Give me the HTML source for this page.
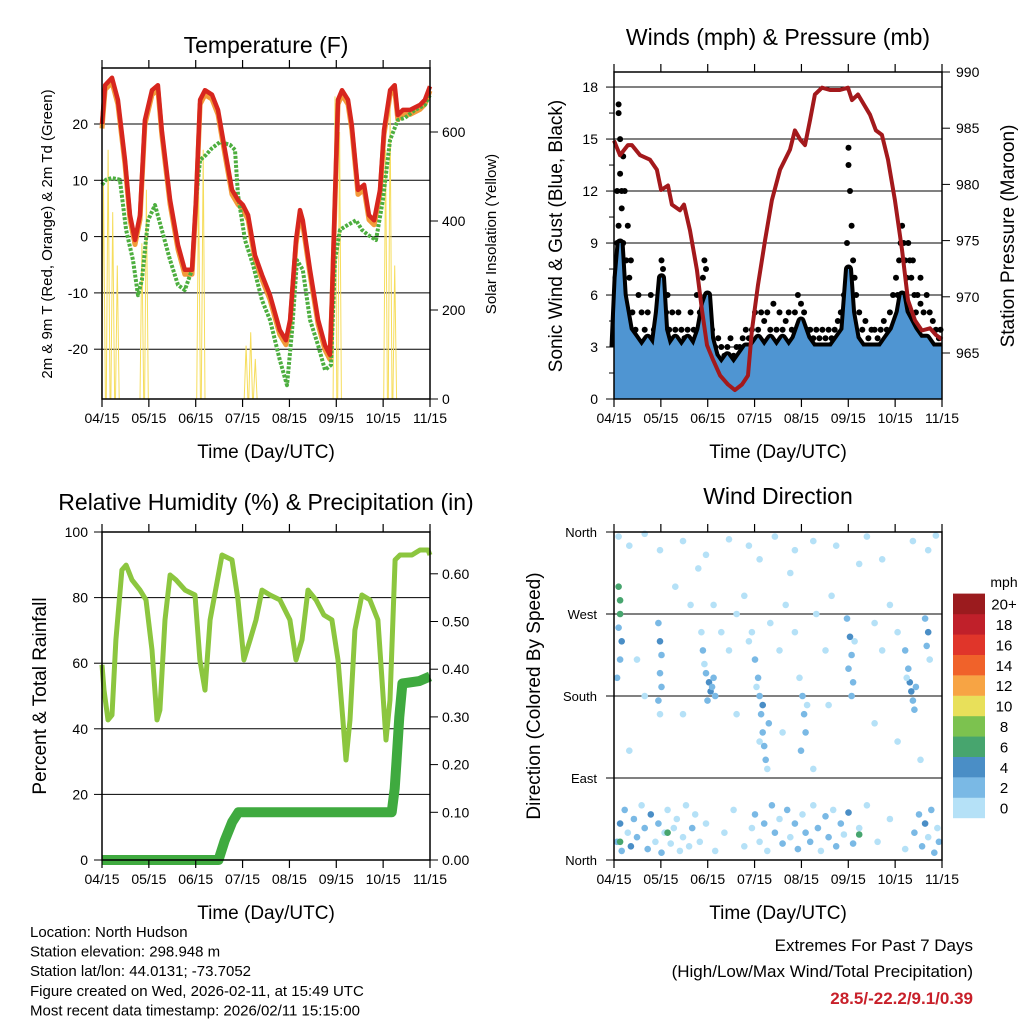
<!DOCTYPE html>
<html><head><meta charset="utf-8"><style>
html,body{margin:0;padding:0;background:#fff;}
svg text{font-family:"Liberation Sans",Arial,sans-serif;fill:#000;}
</style></head><body>
<svg id="s" width="1024" height="1024" viewBox="0 0 1024 1024" xmlns="http://www.w3.org/2000/svg"></svg>
<script>
// ---------------- DATA ----------------
const dateLabels=["04/15","05/15","06/15","07/15","08/15","09/15","10/15","11/15"];
const tempTicks=[20,10,0,-10,-20];
const solarTicks=[0,200,400,600];
const windTicks=[0,3,6,9,12,15,18];
const pressTicks=[965,970,975,980,985,990];
const rhTicks=[0,20,40,60,80,100];
const rainTicks=[0,0.1,0.2,0.3,0.4,0.5,0.6];
const dirTicks=["North","East","South","West","North"];
const cbLabels=["0","2","4","6","8","10","12","14","16","18","20+"];
const cbColors=["#b5e1f7","#7ab9e5","#4a8ec6","#47a56e","#7cc24f","#e8e05a","#f7a444","#f0622a","#e0352a","#c0202a","#9b1b1e"];

const tDays=[0,2,6.5,10.4,15,18.3,21.5,24.8,28,32.6,36.5,39,44.4,49.6,54,58.7,61.3,64,67.2,71.8,75.7,80.2,84.8,88.7,92,95.3,99.8,104.4,109.6,116,120,122.7,126.6,129.2,131,135.7,141,145.5,148.7,150,154,156.6,160.5,163,167,171,174.2,177.5,181.4,184,188,191,193,196.4,201,207.5,210.7,214];
const tempRed=[20,26.9,28.2,24.3,13.6,3.8,-0.6,3.8,20.7,26,26.9,18.9,6.5,-1.5,-5.9,-5.9,6.5,24.3,26,25.2,22.5,15.4,8.3,6.5,5.6,3.8,-3.3,-6.8,-10.4,-16.6,-18.4,-14.8,-0.6,4.7,2.9,-5.9,-14.8,-19.3,-21,-11.3,24.3,26,24.3,19.8,8.3,9.2,3.8,2.9,8.3,18.9,26,26.9,21.6,22.5,22.5,23.4,24.3,26.7];
const tdDays=[0,2.6,6.5,11.7,15.7,20.2,23.5,26,30,34.6,39,44.4,49.6,54,58.7,61.3,64,67.8,71.8,77,83.5,86.8,88.7,93.3,98.5,104.4,109.6,116,120.7,124,127.2,131,135.7,141,145.5,149.4,152,155.3,160.5,165.7,169.6,173.5,178.8,183.3,188,193,197.7,204.2,210.7,214];
const dewGreen=[9.2,10.1,10.4,10.1,1.2,-4.2,-10.4,-7.7,2.9,5.6,1.2,-4.2,-8.6,-9.5,-5.9,6.5,13.6,14.5,15.7,16.8,16.3,15.4,7.4,-0.6,-5,-11.3,-14.8,-21.9,-26.4,-16.6,-4.2,-5.9,-14.8,-19.3,-23.7,-22.8,-4.2,1.2,2.1,2.9,1.2,0.3,-0.6,6.5,17.2,20.7,21.1,22.5,23.4,25.2];
const solarDays=[1,4,7,10,26,29,63,66,94,97,100,152,155,185,188,191];
const solarPeaks=[480,560,420,300,350,470,480,560,120,150,90,680,600,560,650,300];

const pDays=[0,3.9,9.1,11.7,17,23.5,28,30.7,35.2,37.8,43,45.7,49.6,54.1,57.4,60.7,64.6,69.2,74.4,78.9,83.5,87.4,90,93.9,98.5,103,108.3,114.8,118,121.4,124.6,127.9,131.1,135.7,140.9,147.4,152.7,155.3,159.2,163.1,167,170.9,174.8,178.8,183.3,187.9,191.8,196.4,200.9,206.2,210.1,214];
const pressure=[983.9,982.6,983.5,983.5,982.6,982.2,981.3,979.5,979.9,978.2,977.7,978.2,975.9,972.4,968.8,965.7,964.4,963,962.2,961.7,962.2,963,967,971,975,978.6,981.3,983.1,984.8,984,983.5,985.7,988,988.6,988.4,988.4,988.6,987.5,988,987.1,986.2,984.8,984.4,982.2,978.6,974.2,969.7,967.9,967,967.2,966.6,966.2];
const windDays=[0,2,4,6,8,10,14,18,22,26,29,31,33,36,40,44,48,52,56,59,61,63,66,70,74,78,82,86,90,94,98,102,106,110,114,118,122,126,130,134,138,142,146,150,153,155,158,162,166,170,174,178,182,186,188,190,193,196,200,204,208,212,214];
const windSpeed=[3,7,9,6,5,4,3.5,3,3.5,3,5,7,4,3,3.5,3,3.5,3,4,5.5,6,3.5,2.5,2,2.5,2,2.5,3,3,3.5,3,3.5,3,3.5,3,3.5,4.5,3.5,3,3,3,3,3.5,4,7.5,5,3.5,3,3,3,3,3.5,4,5,6,5,4.5,4,3.5,3.5,3,3,3];
const gustDays=[1,2,2,3,3,4,4,5,5,3,6,6,7,8,9,10,11,7,4,12,14,16,18,20,22,24,26,28,30,31,32,33,34,36,38,40,42,44,46,48,50,52,54,56,58,59,60,61,62,64,66,68,70,72,74,76,78,80,82,84,86,88,90,92,94,96,98,100,102,104,106,108,110,112,114,116,118,120,122,124,126,128,130,132,134,136,138,140,142,144,146,148,150,152,153,153,154,155,156,157,158,160,162,164,166,168,170,172,174,176,178,180,182,184,186,187,188,189,190,191,192,193,194,196,198,200,202,204,206,208,210,212,213,5,35,185,195,197,200];
const gustSpeed=[7,9,12,17,16.5,15,13,12,11,10,14,9,12,8,10,7,8,6,8,5,4,6,5,4,5,6,4,5,7,8,7.5,6,5,4,5,4,5,4,3.5,4,5,4,6,5,7,8,7.5,6,5,4,3,3.5,3,2.5,3,3.5,2.5,3,3,3.5,4,3.5,4,5,4,5,4.5,5,4,5.5,4,5,4,4.5,5,4,5,6,5.5,5,4,4,3.5,4,3.5,4,3.5,4,3.5,4,4.5,5,6,9,13.5,14.5,12,10,8,7,6,5,4,4.5,3.5,4,4,3.5,4,4.5,4,5,6,7,8,9,10,9,8,7,9,8,7,6,6,5.5,5,6,5,4.5,4,3.5,4,9,6,6,8,5,7];

const rhDays=[0,1.3,3.9,6.5,9.1,13,15.7,19.6,24.8,28.7,32.6,35.9,37.8,41.1,44.4,48.3,54.2,60.7,63.9,67.2,70.5,78.3,84.8,88.7,92.6,96.6,100.5,104.4,109.6,116.1,122.6,126.6,130.5,134.4,139.6,144.8,150,154,157.2,159.2,161.8,165,169.6,174.8,180,182.7,185.3,187.9,191.2,194.4,202.2,207.5,212.7,214];
const rhValues=[59.5,51.8,42.7,44.2,67.1,88.4,89.9,85.4,82.3,79.3,64,42.7,45.7,73.2,86.9,85.4,82.3,80.8,61,51.8,73.2,93,91.5,79.3,61,67.1,73.2,82.3,80.8,79.3,73.2,61,67.1,82.3,79.3,74.7,73.2,61,42.7,30.5,42.7,70.1,80.8,79.3,73.2,54.9,36.6,48.8,91.5,93,93,94.5,94.5,93];
const rainDays=[0,76,80,85,89,189,191,192,194,196,207,214];
const rainTotal=[0,0,0.04,0.08,0.1,0.1,0.15,0.2,0.3,0.37,0.375,0.385];

const dirDays=[2,4,5,7,9,11,13,15,18,20,22,24,27,29,31,33,35,37,39,41,43,45,47,49,51,53,56,60,66,72,78,85,90,92,95,98,100,103,105,108,110,113,115,118,120,123,125,128,130,133,135,138,140,143,145,148,150,153,156,160,165,172,180,190,196,199,201,203,205,207,209,211,212,4,35,160,
3,10,20,30,45,60,75,88,95,105,118,130,145,165,175,195,205,210,55,115,160,
3,4,4,3,5,4,2,29,30,31,30,31,29,30,58,60,62,63,64,61,65,59,66,57,90,92,94,95,96,97,98,99,100,93,97,101,95,121,123,124,125,122,126,152,154,155,153,156,155,157,190,192,193,194,195,196,191,197,203,205,204,206,
65,70,75,80,85,88,102,108,112,118,132,138,142,170,175,180,185,50,40,15,20,45,80,110,140,170,185,200,10,130];
const dirDeg=[20,40,10,55,30,15,45,25,60,35,12,50,20,40,8,30,55,18,35,45,10,25,60,15,35,50,20,40,10,30,55,15,35,50,20,40,10,60,30,45,18,55,25,40,12,50,30,20,60,35,10,48,25,55,15,40,28,52,18,35,60,20,45,12,30,50,15,40,25,55,8,35,20,20,30,28,
355,345,358,340,350,335,352,345,330,355,340,350,345,355,330,350,340,356,320,315,325,
300,285,270,255,240,220,200,260,240,225,205,190,175,160,230,205,195,185,190,175,200,215,180,250,250,220,200,180,160,140,125,110,100,190,170,150,130,200,180,160,140,120,170,265,245,225,210,195,180,240,230,210,195,185,175,165,200,190,265,250,235,220,
280,250,230,270,290,240,260,230,280,250,270,230,290,260,230,280,250,280,300,220,180,160,160,140,170,150,130,110,120,100];
const dirSpeed=[3,4,2,3,1,4,2,3,1,2,3,4,1,2,3,1,0,1,0,1,0,1,0,1,2,1,0,1,0,0,0,0,1,2,1,2,1,2,3,1,2,3,1,2,3,1,2,3,1,2,1,3,2,1,2,3,1,4,2,1,0,0,1,0,2,3,2,4,1,2,3,1,2,6,6,6,
1,0,1,0,0,0,1,0,1,0,0,1,0,0,0,1,0,1,0,0,1,
6,7,6,3,4,3,2,3,4,3,3,2,2,1,2,3,4,4,3,2,2,1,2,1,1,2,3,2,3,2,3,2,1,1,4,2,1,1,2,2,3,2,1,3,4,3,2,3,2,1,2,3,4,4,3,2,1,3,3,4,2,1,
0,0,0,0,1,0,0,1,0,0,0,1,0,0,1,0,0,0,0,1,0,0,0,0,1,0,0,1,0,0];

// ---------------- RENDER ----------------
const S=document.getElementById('s');
const NS="http://www.w3.org/2000/svg";
function el(tag,attrs,parent){const e=document.createElementNS(NS,tag);for(const k in attrs)e.setAttribute(k,attrs[k]);(parent||S).appendChild(e);return e;}
function txt(x,y,s,size,anchor,extra){const t=el('text',Object.assign({x:x,y:y,'font-size':size,'text-anchor':anchor||'middle'},extra||{}));t.textContent=s;return t;}
const DAYSPAN=214;
const X1=d=>102+d*328/DAYSPAN;
const X2=d=>614+d*328/DAYSPAN;
const yT=v=>124+(20-v)*5.63, ySol=v=>399-v*0.445;
const yW=v=>399-v*17.33, yP=v=>353-(v-965)*11.24;
const yRH=v=>860-v*3.28, yRain=v=>860-v*477;
const yD=v=>860-v*0.9111;
function pts(xs,ys,fx,fy){return xs.map((d,i)=>fx(d).toFixed(1)+','+fy(ys[i]).toFixed(1)).join(' ');}

function xAxis(X,left,right,top,bottom,g){
  dateLabels.forEach((l,i)=>{const x=X(i*DAYSPAN/7);
    el('line',{x1:x,y1:bottom,x2:x,y2:bottom+8,stroke:'#000','stroke-width':1.2},g);
    el('line',{x1:x,y1:top,x2:x,y2:top-8,stroke:'#000','stroke-width':1.2},g);
    const t=txt(x,bottom+24,l,14,'middle');
    
    
  });
}
function frame(l,t,r,b,g){el('rect',{x:l,y:t,width:r-l,height:b-t,fill:'none',stroke:'#000','stroke-width':1.5},g);}
function grid(l,r,y,g){el('line',{x1:l,y1:y,x2:r,y2:y,stroke:'#000','stroke-width':1},g);}

// ===== Panel 1: Temperature =====
const g1=el('g',{});


txt(266,53,'Temperature (F)',23);
tempTicks.forEach(v=>{grid(102,430,yT(v),g1);el('line',{x1:94,y1:yT(v),x2:102,y2:yT(v),stroke:'#000'},g1);txt(88,yT(v)+5,String(v),14,'end');});
solarTicks.forEach(v=>{el('line',{x1:430,y1:ySol(v),x2:438,y2:ySol(v),stroke:'#000'},g1);txt(442,ySol(v)+5,String(v),14,'start');});
solarDays.forEach((d,i)=>{const p=el('polyline',{points:pts([d-1.2,d,d+1.2],[0,solarPeaks[i],0],X1,ySol),fill:'none',stroke:'#f6dd5c','stroke-width':1},g1);
  });
const orange=el('polyline',{points:pts(tDays,tempRed.map(v=>v-0.8),X1,yT),fill:'none',stroke:'#f39a3a','stroke-width':5,'stroke-linejoin':'round'},g1);

const dew=el('polyline',{points:pts(tdDays,dewGreen,X1,yT),fill:'none',stroke:'#4dae3f','stroke-width':4,'stroke-dasharray':'3 1.5','stroke-linejoin':'round'},g1);

const red=el('polyline',{points:pts(tDays,tempRed,X1,yT),fill:'none',stroke:'#d7261e','stroke-width':4.5,'stroke-linejoin':'round'},g1);

frame(102,68,430,399,g1);xAxis(X1,102,430,68,399,g1);
txt(266,458,'Time (Day/UTC)',19);
let t=txt(0,0,'2m & 9m T (Red, Orange) & 2m Td (Green)',15,'middle',{transform:'translate(52,234) rotate(-90)'});
t=txt(0,0,'Solar Insolation (Yellow)',15,'middle',{transform:'translate(496,234) rotate(-90)'});

// ===== Panel 2: Winds & Pressure =====
const g2=el('g',{});


txt(778,45,'Winds (mph) & Pressure (mb)',23);
windTicks.forEach(v=>{if(v>0)grid(614,942,yW(v),g2);el('line',{x1:606,y1:yW(v),x2:614,y2:yW(v),stroke:'#000'},g2);txt(598,yW(v)+5,String(v),14,'end');
  if(v<18)el('line',{x1:609,y1:yW(v+1.5),x2:614,y2:yW(v+1.5),stroke:'#000'},g2);});
pressTicks.forEach(v=>{el('line',{x1:942,y1:yP(v),x2:950,y2:yP(v),stroke:'#000'},g2);txt(956,yP(v)+5,String(v),14,'start');});
gustDays.forEach((d,i)=>{const c=el('circle',{cx:X2(d).toFixed(1),cy:yW(gustSpeed[i]).toFixed(1),r:3,fill:'#000'},g2);
  });
const wtop=pts(windDays,windSpeed,X2,yW);
el('polyline',{points:wtop,fill:'none',stroke:'#000','stroke-width':9,'stroke-linejoin':'round'},g2);
const wpoly=X2(0)+','+yW(0)+' '+wtop+' '+X2(214)+','+yW(0);
const wa=el('polygon',{points:wpoly,fill:'#4f95d2',stroke:'#4f95d2','stroke-width':1},g2);

const pl=el('polyline',{points:pts(pDays,pressure,X2,yP),fill:'none',stroke:'#a3191c','stroke-width':4,'stroke-linejoin':'round'},g2);

frame(614,72,942,399,g2);xAxis(X2,614,942,72,399,g2);
txt(778,458,'Time (Day/UTC)',19);
t=txt(0,0,'Sonic Wind & Gust (Blue, Black)',19,'middle',{transform:'translate(562,236) rotate(-90)'});
t=txt(0,0,'Station Pressure (Maroon)',19,'middle',{transform:'translate(1014,236) rotate(-90)'});

// ===== Panel 3: RH & Precip =====
const g3=el('g',{});


txt(266,510,'Relative Humidity (%) & Precipitation (in)',23);
rhTicks.forEach(v=>{if(v>0&&v<100)grid(102,430,yRH(v),g3);el('line',{x1:94,y1:yRH(v),x2:102,y2:yRH(v),stroke:'#000'},g3);txt(88,yRH(v)+5,String(v),14,'end');});
rainTicks.forEach(v=>{el('line',{x1:430,y1:yRain(v),x2:438,y2:yRain(v),stroke:'#000'},g3);txt(442,yRain(v)+5,v.toFixed(2),14,'start');});
const rh=el('polyline',{points:pts(rhDays,rhValues,X1,yRH),fill:'none',stroke:'#8cc63f','stroke-width':5,'stroke-linejoin':'round'},g3);

const rn=el('polyline',{points:pts(rainDays,rainTotal,X1,yRain),fill:'none',stroke:'#3faa3f','stroke-width':10,'stroke-linejoin':'round'},g3);

frame(102,532,430,860,g3);xAxis(X1,102,430,532,860,g3);
txt(266,919,'Time (Day/UTC)',19);
t=txt(0,0,'Percent & Total Rainfall',19,'middle',{transform:'translate(46,696) rotate(-90)'});

// ===== Panel 4: Wind direction =====
const g4=el('g',{});


txt(778,504,'Wind Direction',23);
dirTicks.forEach((l,i)=>{const y=yD(i*90);if(i>0&&i<4)grid(614,942,y,g4);el('line',{x1:606,y1:y,x2:614,y2:y,stroke:'#000'},g4);txt(597,y+5,l,13,'end');});
dirDays.forEach((d,i)=>{const ci=Math.min(10,Math.floor(dirSpeed[i]/2));
  const c=el('circle',{cx:X2(d).toFixed(1),cy:yD(dirDeg[i]).toFixed(1),r:3.3,fill:cbColors[ci]},g4);
  });
frame(614,532,942,860,g4);xAxis(X2,614,942,532,860,g4);
txt(778,919,'Time (Day/UTC)',19);
t=txt(0,0,'Direction (Colored By Speed)',19,'middle',{transform:'translate(540,696) rotate(-90)'});
// colorbar
const cb=el('g',{});


txt(1004,587,'mph',14,'middle');
cbColors.forEach((c,i)=>{const y=818-(i+1)*20.4;el('rect',{x:953,y:y.toFixed(1),width:32,height:20.6,fill:c},cb);
  txt(1004,y+16,cbLabels[i],15,'middle');});

// ===== Footer text =====
const info=["Location: North Hudson","Station elevation: 298.948 m","Station lat/lon: 44.0131; -73.7052","Figure created on Wed, 2026-02-11, at 15:49 UTC","Most recent data timestamp: 2026/02/11 15:15:00"];
info.forEach((s,i)=>{const e=txt(30,937+i*19.6,s,15,'start');});
txt(973,951,'Extremes For Past 7 Days',17,'end');
txt(973,977,'(High/Low/Max Wind/Total Precipitation)',17,'end');
const ev=txt(973,1004,'28.5/-22.2/9.1/0.39',17,'end',{'font-weight':'bold'});ev.style.fill='#c8202a';

</script>
</body></html>
